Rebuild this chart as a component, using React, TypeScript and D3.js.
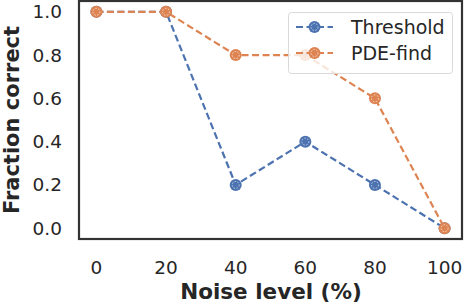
import React, { useEffect, useRef } from 'react'
import * as d3 from 'd3'

const noise = [0, 20, 40, 60, 80, 100]
const threshold = [1.0, 1.0, 0.2, 0.4, 0.2, 0.0]
const pdeFind = [1.0, 1.0, 0.8, 0.8, 0.6, 0.0]
const xTicks = [0, 20, 40, 60, 80, 100]
const yTicks = [0.0, 0.2, 0.4, 0.6, 0.8, 1.0]

const series = [
  { name: 'Threshold', values: threshold, color: '#4c72b0' },
  { name: 'PDE-find', values: pdeFind, color: '#dd8452' },
]

const font = 'DejaVu Sans, sans-serif'

export default function App() {
  const ref = useRef<SVGSVGElement>(null)

  useEffect(() => {
    const svg = d3.select(ref.current)
    svg.selectAll('*').remove()

    const left = 79, right = 462, top = 1, bottom = 239
    const x = d3.scaleLinear().domain([-5, 105]).range([left, right])
    const y = d3.scaleLinear().domain([-0.05, 1.05]).range([bottom, top])

    const drawMarker = (g: any, cx: number, cy: number, color: string) => {
      g.append('circle').attr('cx', cx).attr('cy', cy).attr('r', 6).attr('fill', color)
      g.append('circle').attr('cx', cx).attr('cy', cy).attr('r', 3.5)
        .attr('fill', 'none').attr('stroke', 'white').attr('stroke-width', 0.8)
        .attr('stroke-dasharray', '1.5,1.5').attr('opacity', 0.8)
    }

    // series
    series.forEach((s) => {
      const line = d3.line<number>().x((_, i) => x(noise[i])).y((d) => y(d))
      svg.append('path').datum(s.values).attr('d', line)
        .attr('fill', 'none').attr('stroke', s.color).attr('stroke-width', 2.2)
        .attr('stroke-dasharray', '7,3.5')
      const g = svg.append('g')
      s.values.forEach((v, i) => drawMarker(g, x(noise[i]), y(v), s.color))
    })

    // frame
    svg.append('rect').attr('x', left).attr('y', top)
      .attr('width', right - left).attr('height', bottom - top)
      .attr('fill', 'none').attr('stroke', '#333').attr('stroke-width', 2.2)

    // ticks
    svg.append('g').selectAll('text').data(xTicks).enter().append('text')
      .attr('x', (d) => x(d)).attr('y', 274).attr('text-anchor', 'middle')
      .attr('font-family', font).attr('font-size', 18.5).attr('fill', '#262626')
      .text((d) => d)
    svg.append('g').selectAll('text').data(yTicks).enter().append('text')
      .attr('x', 62).attr('y', (d) => y(d) + 6.5).attr('text-anchor', 'end')
      .attr('font-family', font).attr('font-size', 18.5).attr('fill', '#262626')
      .text((d) => d.toFixed(1))

    // axis labels
    svg.append('text').attr('x', 271).attr('y', 299)
      .attr('text-anchor', 'middle').attr('font-family', font).attr('font-weight', 'bold')
      .attr('font-size', 21.5).attr('fill', '#262626').text('Noise level (%)')
    svg.append('text').attr('transform', `translate(19,${(top + bottom) / 2}) rotate(-90)`)
      .attr('text-anchor', 'middle').attr('font-family', font).attr('font-weight', 'bold')
      .attr('font-size', 21).attr('fill', '#262626').text('Fraction correct')

    // legend
    const lg = svg.append('g')
    lg.append('rect').attr('x', 288.5).attr('y', 12.5).attr('width', 164).attr('height', 61)
      .attr('rx', 3).attr('fill', 'white').attr('fill-opacity', 0.8)
      .attr('stroke', '#d9d9d9').attr('stroke-width', 1)
    series.forEach((s, i) => {
      const cy = 27 + i * 26
      lg.append('line').attr('x1', 296).attr('x2', 333).attr('y1', cy).attr('y2', cy)
        .attr('stroke', s.color).attr('stroke-width', 2.2).attr('stroke-dasharray', '7,3.5')
      drawMarker(lg, 314.5, cy, s.color)
      lg.append('text').attr('x', 351).attr('y', cy + 7)
        .attr('font-family', font).attr('font-size', 19).attr('fill', '#262626').text(s.name)
    })
  }, [])

  return <svg ref={ref} width={466} height={306} style={{ position: 'absolute', left: 0, top: 0 }} />
}
